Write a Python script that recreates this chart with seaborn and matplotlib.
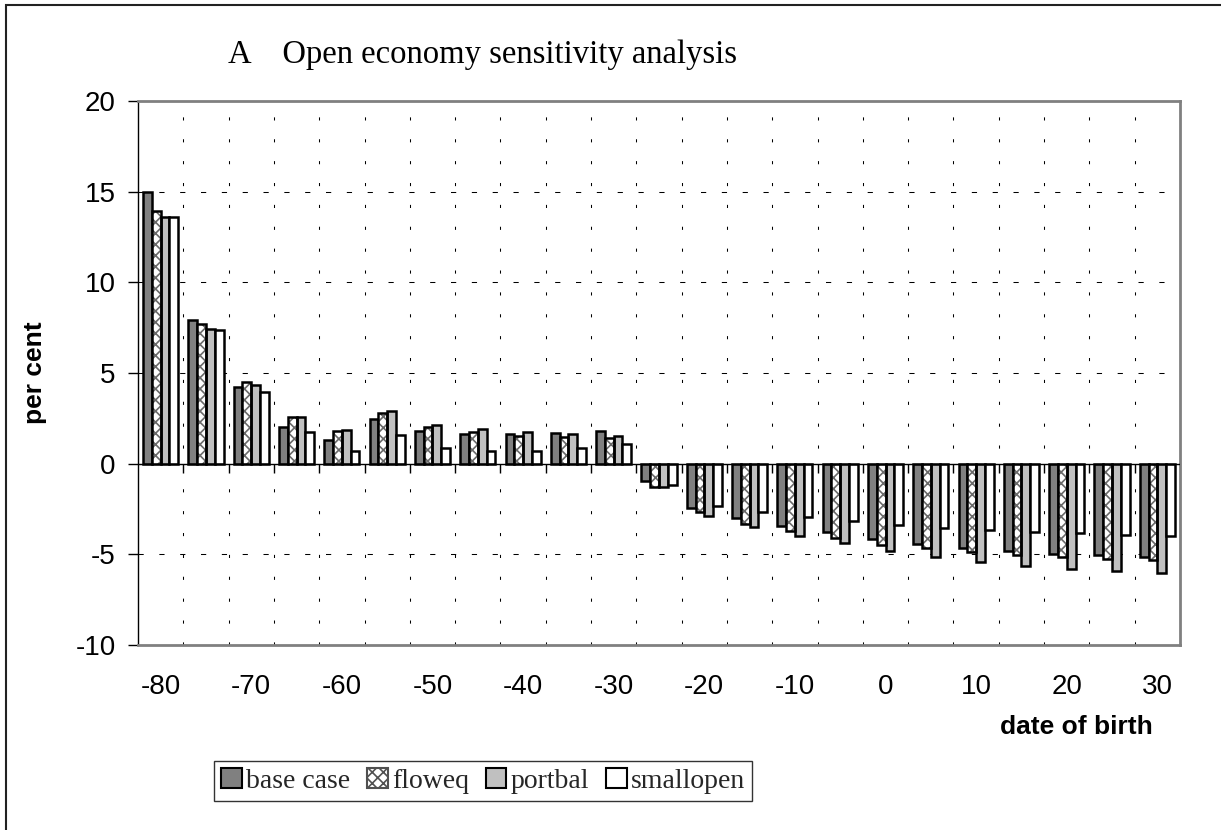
import matplotlib
matplotlib.use("Agg")
import matplotlib.pyplot as plt
from matplotlib.patches import Patch, Rectangle
import numpy as np
import pandas as pd
import seaborn as sns

# ---- data -------------------------------------------------------------
dates = [-80, -75, -70, -65, -60, -55, -50, -45, -40, -35, -30, -25,
         -20, -15, -10, -5, 0, 5, 10, 15, 20, 25, 30]
base_case = [15.0, 7.9, 4.25, 2.0, 1.3, 2.45, 1.8, 1.65, 1.65, 1.7, 1.8, -0.95,
             -2.43, -2.98, -3.44, -3.77, -4.14, -4.43, -4.63, -4.82, -4.96, -5.05, -5.13]
floweq = [13.95, 7.7, 4.5, 2.6, 1.79, 2.78, 2.0, 1.75, 1.53, 1.46, 1.42, -1.27,
          -2.68, -3.33, -3.71, -4.08, -4.47, -4.67, -4.85, -5.04, -5.13, -5.26, -5.3]
portbal = [13.62, 7.43, 4.36, 2.6, 1.88, 2.89, 2.15, 1.93, 1.77, 1.62, 1.53, -1.3,
           -2.87, -3.47, -3.97, -4.39, -4.83, -5.13, -5.42, -5.63, -5.81, -5.92, -6.03]
smallopen = [13.6, 7.37, 3.97, 1.77, 0.7, 1.58, 0.85, 0.7, 0.72, 0.87, 1.1, -1.15,
             -2.33, -2.66, -2.94, -3.14, -3.4, -3.56, -3.67, -3.78, -3.84, -3.93, -3.97]
series_names = ["base case", "floweq", "portbal", "smallopen"]
tick_labels = ["-80", "-70", "-60", "-50", "-40", "-30", "-20", "-10", "0", "10", "20", "30"]
y_ticks = [-10, -5, 0, 5, 10, 15, 20]

df = pd.DataFrame({
    "date": dates * 4,
    "value": base_case + floweq + portbal + smallopen,
    "series": np.repeat(series_names, len(dates)),
})

# ---- styling ----------------------------------------------------------
sns.set_theme(style="white")
plt.rcParams["font.family"] = ["Liberation Sans", "DejaVu Sans"]
plt.rcParams["axes.unicode_minus"] = False
plt.rcParams["hatch.linewidth"] = 1.2

fills = ["#808080", "#ffffff", "#c0c0c0", "#ffffff"]
SERIF = ["Liberation Serif", "DejaVu Serif"]
EDGE_W = 1.8

fig = plt.figure(figsize=(12.21, 8.30), dpi=100)
ax = fig.add_axes([138 / 1221, 1 - 645 / 830, (1180 - 138) / 1221, (645 - 101) / 830])

sns.barplot(data=df, x="date", y="value", hue="series", hue_order=series_names,
            order=dates, palette=fills, saturation=1, width=0.775,
            edgecolor="black", linewidth=EDGE_W, legend=False, ax=ax, zorder=3)

# checkered fill for the floweq series, outlined in black on top
for bar in ax.containers[1]:
    bar.set_hatch("xxx")
    bar.set_edgecolor("#6a6a6a")
    bar.set_linewidth(0)
    ax.add_patch(Rectangle(bar.get_xy(), bar.get_width(), bar.get_height(),
                           fill=False, edgecolor="black", linewidth=EDGE_W, zorder=4))

n = len(dates)
ax.set_xlim(-0.5, n - 0.5)
ax.set_ylim(-10, 20)
ax.set_yticks(y_ticks)
ax.set_xticks(np.arange(0, n, 2))
ax.set_xticklabels(tick_labels)
ax.set_xticks(np.arange(0.5, n - 1, 1), minor=True)

ax.tick_params(axis="x", which="both", length=0, pad=21, labelsize=20, colors="black")
ax.tick_params(axis="y", which="major", length=7, width=1, direction="out",
               pad=9, labelsize=20, colors="black", left=True)

# gridlines: dotted verticals between categories, dashed horizontals
ax.set_axisbelow(True)
ax.grid(False)
ax.grid(which="minor", axis="x", color="black", linewidth=0.75, linestyle=(0, (3, 18)))
ax.grid(which="major", axis="y", color="black", linewidth=0.75, linestyle=(0, (5, 15)))

# category axis drawn through zero with tick marks between categories
ax.axhline(0, color="black", linewidth=1, zorder=5)
ax.vlines(np.arange(0.5, n - 1, 1), -0.5, 0, color="black", linewidth=1, zorder=5)

for side in ["top", "right", "bottom"]:
    ax.spines[side].set_color("#808080")
    ax.spines[side].set_linewidth(2)
ax.spines["left"].set_color("black")
ax.spines["left"].set_linewidth(1)

ax.set_ylabel("per cent", fontsize=19, fontweight="bold", color="black")
ax.yaxis.set_label_coords(-0.0873, 0.5)
ax.set_xlabel("date of birth", fontsize=19, fontweight="bold", color="black", loc="right")
ax.xaxis.set_label_coords(0.974, -0.151)
ax.xaxis.label.set_verticalalignment("center")

fig.text(228 / 1221, 1 - 63 / 830, "A    Open economy sensitivity analysis",
         family=SERIF, fontsize=23.5, va="baseline", ha="left", color="black")

handles = [
    Patch(facecolor=fills[0], edgecolor="black", linewidth=1.5),
    Patch(facecolor="white", edgecolor="#505050", hatch="xxx", linewidth=1.5),
    Patch(facecolor=fills[2], edgecolor="black", linewidth=1.5),
    Patch(facecolor=fills[3], edgecolor="black", linewidth=1.5),
]
leg = fig.legend(handles, series_names, loc="center",
                 bbox_to_anchor=(483 / 1221, 1 - 781 / 830), ncol=4,
                 prop={"family": SERIF, "size": 20}, frameon=True, fancybox=False,
                 shadow=False, handlelength=0.75, handleheight=0.75,
                 handletextpad=0.15, columnspacing=0.6, borderpad=0.25,
                 borderaxespad=0)
leg.get_frame().set_edgecolor("black")
leg.get_frame().set_linewidth(1)

# outer frame around the whole figure
fig.add_artist(Rectangle((6 / 1221, -0.02), 1.0, 1 - 5 / 830 + 0.02,
                         transform=fig.transFigure, fill=False,
                         edgecolor="#222222", linewidth=1.5))

fig.savefig("out.png", dpi=100)
